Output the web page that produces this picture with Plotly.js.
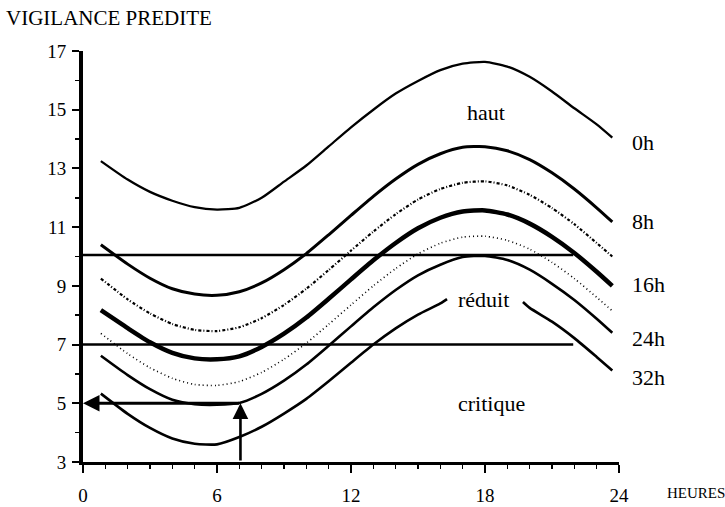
<!DOCTYPE html>
<html>
<head>
<meta charset="utf-8">
<script src="https://cdn.plot.ly/plotly-3.0.1.min.js"></script>
<style>html,body{margin:0;padding:0;background:#fff;}#chart{width:725px;height:507px;}</style>
</head>
<body>
<div id="chart"></div>
<script>
// Hours (x) at which the curves were read
const hours = [0.8,2,3,4,5,6,7,8,9,10,11,12,13,14,15,16,17,18,19,20,21,22,23,23.7];
// Predicted vigilance after 0h, 8h, (12h), 16h, (20h), 24h, 32h of wakefulness
const v0h  = [13.25,12.62,12.2,11.9,11.68,11.6,11.66,12.0,12.55,13.1,13.75,14.4,15.0,15.55,15.98,16.35,16.57,16.63,16.47,16.12,15.62,15.05,14.5,14.05];
const v8h  = [10.4,9.74,9.26,8.9,8.72,8.68,8.8,9.1,9.55,10.1,10.74,11.4,12.05,12.64,13.14,13.5,13.72,13.74,13.6,13.3,12.85,12.3,11.66,11.18];
const v12h = [9.25,8.54,8.06,7.7,7.5,7.46,7.59,7.9,8.35,8.9,9.54,10.2,10.85,11.44,11.94,12.3,12.51,12.56,12.42,12.1,11.65,11.1,10.46,10.0];
const v16h = [8.17,7.56,7.08,6.72,6.53,6.5,6.6,6.92,7.37,7.92,8.56,9.22,9.87,10.46,10.96,11.32,11.53,11.57,11.43,11.12,10.67,10.12,9.48,9.0];
const v20h = [7.38,6.69,6.21,5.85,5.64,5.61,5.74,6.05,6.5,7.05,7.69,8.35,9.0,9.59,10.09,10.45,10.66,10.69,10.55,10.25,9.8,9.25,8.61,8.15];
const v24h = [6.62,5.96,5.48,5.12,4.97,4.95,5.01,5.32,5.77,6.32,6.96,7.62,8.27,8.86,9.36,9.72,9.98,10.02,9.88,9.55,9.07,8.52,7.88,7.4];
const hours32 = [0.8,2,3,4,5,6,7,8,9,10,11,12,13,14,15,16,16.3,18,19.7,20,21,22,23,23.7];
const v32h = [5.33,4.64,4.16,3.8,3.62,3.6,3.85,4.2,4.65,5.15,5.75,6.38,7.0,7.55,8.02,8.4,8.55,null,8.45,8.25,7.78,7.22,6.58,6.12];

// Threshold lines (haut / réduit / critique)
const thresholdX = [0, 21.95];
const upperThreshold = [10.05, 10.05];
const lowerThreshold = [7, 7];

// Example reading arrows
const arrowHour = 7.05;
const arrowFromY = 3;
const arrowLevel = 5;

// Labels
const curveLabels = ['0h','8h','16h','24h','32h'];
const curveLabelY = [13.9,11.19,9.06,7.21,5.88];
const zoneLabels = ['haut','réduit','critique'];
const zoneLabelX = [18.05,17.93,18.27];
const zoneLabelY = [14.92,8.55,4.98];
const xTicks = [0,6,12,18,24];
const yTicks = [3,5,7,9,11,13,15,17];

const FONT = 'Liberation Serif, Times New Roman, serif';

function line(x, y, w, dash) {
  return {x: x, y: y, type: 'scatter', mode: 'lines', connectgaps: false,
    line: {color: '#000', width: w, dash: dash || 'solid', shape: 'spline', smoothing: 0.6},
    hoverinfo: 'skip', showlegend: false, cliponaxis: false};
}

const traces = [
  line(hours, v0h, 2.3),
  line(hours, v8h, 3),
  line(hours, v12h, 2.2, '3px,2px,1px,2px'),
  line(hours, v16h, 4.5),
  line(hours, v20h, 1.6, '1px,3px'),
  line(hours, v24h, 2.6),
  line(hours32, v32h, 2.6),
  {x: thresholdX, y: upperThreshold, type: 'scatter', mode: 'lines', line: {color: '#000', width: 2.6}, hoverinfo: 'skip', showlegend: false},
  {x: thresholdX, y: lowerThreshold, type: 'scatter', mode: 'lines', line: {color: '#000', width: 2.6}, hoverinfo: 'skip', showlegend: false}
];

const annotations = [];
curveLabels.forEach((t, i) => annotations.push({x: 1.0205, y: curveLabelY[i], xref: 'paper', yref: 'y', text: t, showarrow: false, xanchor: 'left', yanchor: 'middle', font: {family: FONT, size: 22, color: '#000'}}));
zoneLabels.forEach((t, i) => annotations.push({x: zoneLabelX[i], y: zoneLabelY[i], xref: 'x', yref: 'y', text: t, showarrow: false, xanchor: 'center', yanchor: 'middle', font: {family: FONT, size: 22, color: '#000'}}));
annotations.push({x: 1.0858, y: -0.0754, xref: 'paper', yref: 'paper', text: 'HEURES', showarrow: false, xanchor: 'left', yanchor: 'middle', font: {family: FONT, size: 15, color: '#000'}});
// vertical arrow up to level 5
annotations.push({x: arrowHour, y: arrowLevel, ax: arrowHour, ay: arrowFromY, xref: 'x', yref: 'y', axref: 'x', ayref: 'y', text: '', showarrow: true, arrowhead: 2, arrowsize: 1.2, arrowwidth: 2.6, arrowcolor: '#000', standoff: 0, startstandoff: 0});
// horizontal arrow to y axis
annotations.push({x: 0, y: arrowLevel, ax: arrowHour, ay: arrowLevel, xref: 'x', yref: 'y', axref: 'x', ayref: 'y', text: '', showarrow: true, arrowhead: 2, arrowsize: 1.1, arrowwidth: 3, arrowcolor: '#000', standoff: 0, startstandoff: 0});

const layout = {
  width: 725, height: 507,
  margin: {l: 83, r: 106, t: 51, b: 45},
  paper_bgcolor: '#fff', plot_bgcolor: '#fff',
  showlegend: false,
  title: {text: 'VIGILANCE PREDITE', x: 6/725, xanchor: 'left', xref: 'container', y: 1 - 18/507, yanchor: 'middle', yref: 'container',
    font: {family: FONT, size: 21, color: '#000'}},
  font: {family: FONT, color: '#000'},
  xaxis: {range: [0, 24], tickvals: xTicks, ticktext: xTicks.map(String), showgrid: false, zeroline: false,
    showline: true, linecolor: '#000', linewidth: 3, ticks: 'outside', ticklen: 8, tickwidth: 2, tickcolor: '#000',
    minor: {dtick: 1, tick0: 0, ticks: 'outside', ticklen: 4, tickwidth: 1.5, tickcolor: '#000', showgrid: false},
    tickfont: {family: FONT, size: 19, color: '#000'}, ticklabelstandoff: 6, fixedrange: true},
  yaxis: {range: [3, 17], tickvals: yTicks, ticktext: yTicks.map(String), showgrid: false, zeroline: false,
    showline: true, linecolor: '#000', linewidth: 4, ticks: 'outside', ticklen: 7, tickwidth: 2, tickcolor: '#000',
    minor: {dtick: 1, tick0: 3, ticks: 'outside', ticklen: 4, tickwidth: 1.5, tickcolor: '#000', showgrid: false},
    tickfont: {family: FONT, size: 19, color: '#000'}, ticklabelstandoff: 2, fixedrange: true},
  annotations: annotations
};

Plotly.newPlot('chart', traces, layout, {displayModeBar: false, staticPlot: true});
</script>
</body>
</html>
